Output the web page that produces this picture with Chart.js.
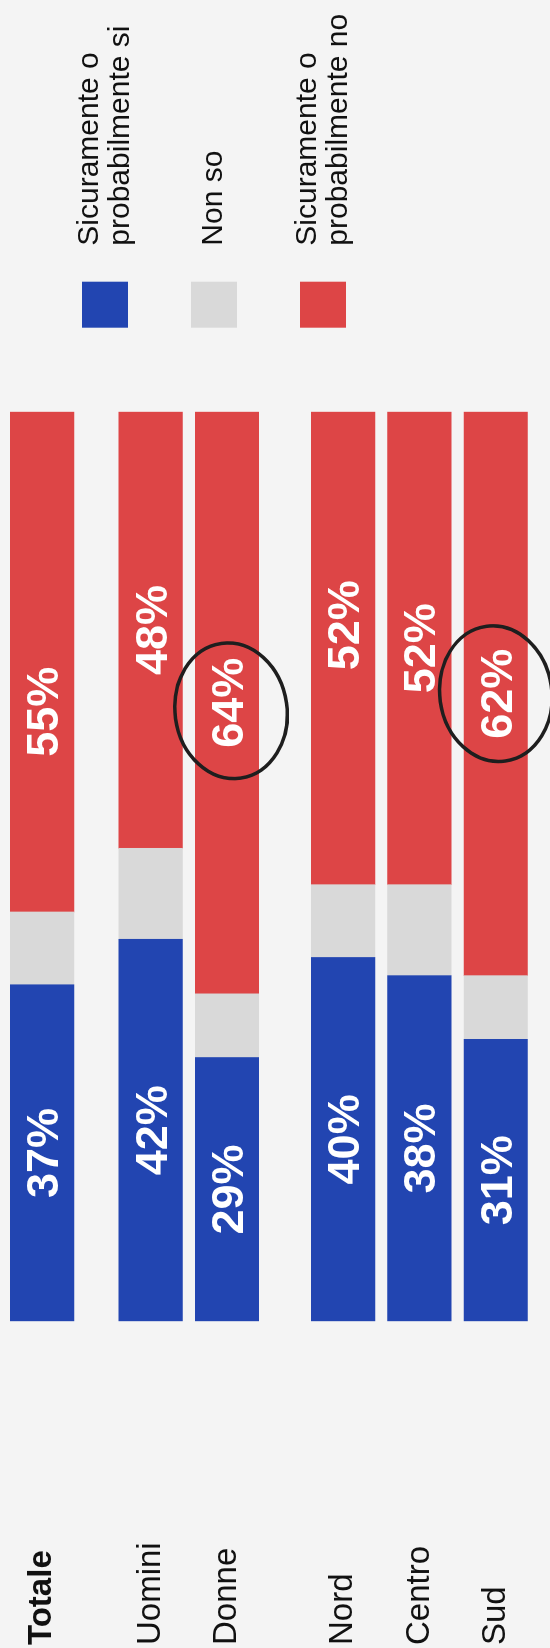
<!DOCTYPE html>
<html>
<head>
<meta charset="utf-8">
<script src="https://cdn.jsdelivr.net/npm/chart.js@4.4.0/dist/chart.umd.min.js"></script>
<style>
  html, body { margin: 0; padding: 0; background: #f4f4f4; overflow: hidden; }
  /* the chart is laid out sideways and turned a quarter turn */
  #wrap {
    position: absolute; left: 0; top: 0;
    width: 1648px; height: 550px;
    transform-origin: 0 0;
    transform: translate(0, 1648px) rotate(-90deg);
  }
</style>
</head>
<body>
<div id="wrap"><canvas id="chart" width="1648" height="550"></canvas></div>
<script>
const categories = ["Totale", "Uomini", "Donne", "Nord", "Centro", "Sud"];
const groups = [0, 1, 1, 2, 2, 2];
const siValues = [37, 42, 29, 40, 38, 31];
const nonSoValues = [8, 10, 7, 8, 10, 7];
const noValues = [55, 48, 64, 52, 52, 62];
const seriesNames = [
  ["Sicuramente o", "probabilmente si"],
  ["Non so"],
  ["Sicuramente o", "probabilmente no"],
];
const colors = ["#2245b1", "#d9d9d9", "#dd4546"];
// [dataset, index] of the values circled by hand
const circled = [[2, 2], [2, 5]];

const FONT = "'Liberation Sans', Arial, Helvetica, sans-serif";
const groupShift = [0, 0.42, 0.94];
const positions = categories.map((c, i) => i + groupShift[groups[i]]);

const toPoints = (vals) => vals.map((v, i) => ({ x: v, y: positions[i] }));
const BAR = 63.5;

// some red labels sit a little off the middle of their segment
const labelNudge = { 2: [-50, 0, 0, 23, 0, 0] };
// hand-drawn rings are not perfectly centred on the label
const ringNudge = [[-8, 4], [0, 0]];

const valueLabels = {
  id: "valueLabels",
  afterDatasetsDraw(chart) {
    const ctx = chart.ctx;
    ctx.save();
    ctx.fillStyle = "#ffffff";
    ctx.font = "bold 45px " + FONT;
    ctx.textAlign = "center";
    ctx.textBaseline = "alphabetic";
    [0, 2].forEach((ds) => {
      chart.getDatasetMeta(ds).data.forEach((bar, i) => {
        const p = bar.getCenterPoint();
        const v = chart.data.datasets[ds].data[i].x;
        const dx = labelNudge[ds] ? labelNudge[ds][i] : 0;
        ctx.fillText(v + "%", p.x + dx, p.y + 16);
      });
    });
    ctx.restore();
  },
};

const handCircles = {
  id: "handCircles",
  afterDatasetsDraw(chart) {
    const ctx = chart.ctx;
    ctx.save();
    ctx.strokeStyle = "#1e1e1e";
    ctx.lineWidth = 3.5;
    circled.forEach(([ds, i], k) => {
      const p = chart.getDatasetMeta(ds).data[i].getCenterPoint();
      const [dx, dy] = ringNudge[k];
      ctx.beginPath();
      ctx.ellipse(p.x + dx, p.y + dy, 68, 56, -8 * Math.PI / 180, 0, Math.PI * 2);
      ctx.stroke();
    });
    ctx.restore();
  },
};

const sideLegend = {
  id: "sideLegend",
  afterDraw(chart) {
    const ctx = chart.ctx;
    const left = chart.chartArea.right + 84;
    ctx.save();
    ctx.font = "30px " + FONT;
    ctx.textAlign = "left";
    ctx.textBaseline = "middle";
    seriesNames.forEach((lines, k) => {
      const top = 82 + k * 109;
      const mid = top + 23;
      ctx.fillStyle = colors[k];
      ctx.fillRect(left, top, 46, 46);
      ctx.fillStyle = "#111111";
      lines.forEach((t, j) => {
        ctx.fillText(t, left + 82, mid + (j - (lines.length - 1) / 2) * 31);
      });
    });
    ctx.restore();
  },
};

const pxPerSlot = 76.36;
const firstCenter = 42.2;

const dataset = (i, vals) => ({
  label: seriesNames[i].join(" "),
  data: toPoints(vals),
  backgroundColor: colors[i],
  borderWidth: 0,
  barThickness: BAR,
});

new Chart(document.getElementById("chart"), {
  type: "bar",
  data: {
    datasets: [dataset(0, siValues), dataset(1, nonSoValues), dataset(2, noValues)],
  },
  options: {
    indexAxis: "y",
    responsive: false,
    animation: false,
    layout: { padding: { left: 3, right: 411.7, top: 0, bottom: 0 } },
    scales: {
      x: { stacked: true, min: 0, max: 100, display: false },
      y: {
        type: "linear",
        stacked: true,
        reverse: true,
        offset: false,
        min: -firstCenter / pxPerSlot,
        max: (550 - firstCenter) / pxPerSlot,
        grid: { display: false, offset: false },
        border: { display: false },
        afterBuildTicks: (scale) => {
          scale.ticks = positions.map((v) => ({ value: v }));
        },
        afterFit: (scale) => {
          scale.width = 323.7;
          scale.paddingTop = 0;
          scale.paddingBottom = 0;
        },
        ticks: {
          crossAlign: "far",
          color: "#111111",
          autoSkip: false,
          callback: (value, index) => categories[index],
          font: (c) => ({ family: FONT, size: 33, weight: c.index === 0 ? "bold" : "normal" }),
        },
      },
    },
    plugins: {
      legend: { display: false },
      tooltip: { enabled: false },
    },
  },
  plugins: [valueLabels, handCircles, sideLegend],
});
</script>
</body>
</html>
